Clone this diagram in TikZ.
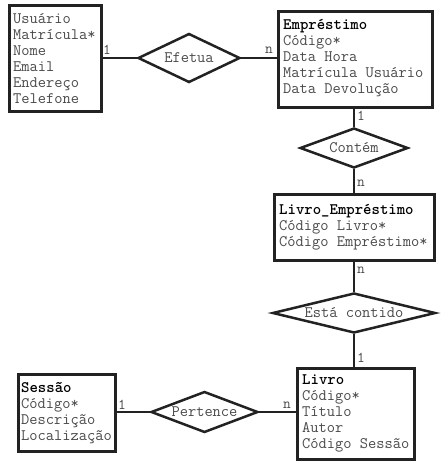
\documentclass[tikz,border=0pt]{standalone}
\usepackage{fontspec}
\usetikzlibrary{shapes.geometric}
\definecolor{linec}{HTML}{222222}
\definecolor{txtc}{HTML}{4a4a4a}
\tikzset{
  entity/.style={draw=linec, line width=2.5pt, inner sep=0pt, anchor=north west, fill=white},
  relation/.style={draw=linec, line width=2.5pt, shape=diamond, inner sep=0pt, fill=white},
  rtext/.style={text=txtc, inner sep=0pt, font=\ttfamily\fontsize{16pt}{16pt}\selectfont},
  attrs/.style={text=txtc, inner sep=0pt, anchor=base west, font=\ttfamily\fontsize{16pt}{16pt}\selectfont},
  card/.style={text=txtc, inner sep=0pt, font=\ttfamily\fontsize{15pt}{16pt}\selectfont},
  conn/.style={draw=linec, line width=2.5pt}
}
\newcommand{\ttl}[1]{\textcolor{black}{\textbf{#1}}}
\begin{document}
\begin{tikzpicture}[x=1pt,y=-1pt]
\useasboundingbox (0,0) rectangle (443,464);
% entities
\node[entity, minimum width=92pt, minimum height=106pt] (usuario) at (8,4) {};
\node[entity, minimum width=154pt, minimum height=96pt] (emprestimo) at (277,10) {};
\node[entity, minimum width=160pt, minimum height=66pt] (livroemp) at (273,193) {};
\node[entity, minimum width=117pt, minimum height=91pt] (livro) at (296,367) {};
\node[entity, minimum width=97pt, minimum height=77pt] (sessao) at (17,373) {};
% relations
\node[relation, minimum width=102pt, minimum height=49pt] (efetua) at (189,58) {};
\node[relation, minimum width=108pt, minimum height=40pt] (contem) at (354,148) {};
\node[relation, minimum width=163pt, minimum height=40pt] (contido) at (354,313) {};
\node[relation, minimum width=107pt, minimum height=41pt] (pertence) at (204.5,412) {};
% connectors
\draw[conn] (usuario.east |- efetua) -- (efetua.west);
\draw[conn] (efetua.east) -- (emprestimo.west |- efetua);
\draw[conn] (contem.north |- emprestimo.south) -- (contem.north);
\draw[conn] (contem.south) -- (contem.south |- livroemp.north);
\draw[conn] (contido.north |- livroemp.south) -- (contido.north);
\draw[conn] (contido.south) -- (contido.south |- livro.north);
\draw[conn] (sessao.east |- pertence) -- (pertence.west);
\draw[conn] (pertence.east) -- (livro.west |- pertence);
% relation texts
\node[rtext] (efetuat) at (efetua) {Efetua};
\node[rtext] (contemt) at (contem) {Contém};
\node[rtext] (contidot) at (contido) {Está contido};
\node[rtext] (pertencet) at (pertence) {Pertence};
% attribute texts
\node[attrs] (usuariot) at (13,23.5) {\parbox[t]{150pt}{\raggedright Usuário\\Matrícula*\\Nome\\Email\\Endereço\\Telefone}};
\node[attrs] (emprestimot) at (283,29.5) {\parbox[t]{150pt}{\raggedright \ttl{Empréstimo}\\Código*\\Data Hora\\Matrícula Usuário\\Data Devolução}};
\node[attrs] (livroempt) at (279,214.5) {\parbox[t]{170pt}{\raggedright \ttl{Livro\_Empréstimo}\\Código Livro*\\Código Empréstimo*}};
\node[attrs] (livrot) at (302,384.5) {\parbox[t]{150pt}{\raggedright \ttl{Livro}\\Código*\\Título\\Autor\\Código Sessão}};
\node[attrs] (sessaot) at (21,392.5) {\parbox[t]{150pt}{\raggedright \ttl{Sessão}\\Código*\\Descrição\\Localização}};
% cardinalities
\node[card] (c1) at (107,50) {1};
\node[card] (c2) at (269,50) {n};
\node[card] (c3) at (361,116) {1};
\node[card] (c4) at (361,183) {n};
\node[card] (c5) at (361,270) {n};
\node[card] (c6) at (361,358) {1};
\node[card] (c7) at (122,405) {1};
\node[card] (c8) at (287,405) {n};
\end{tikzpicture}
\end{document}
